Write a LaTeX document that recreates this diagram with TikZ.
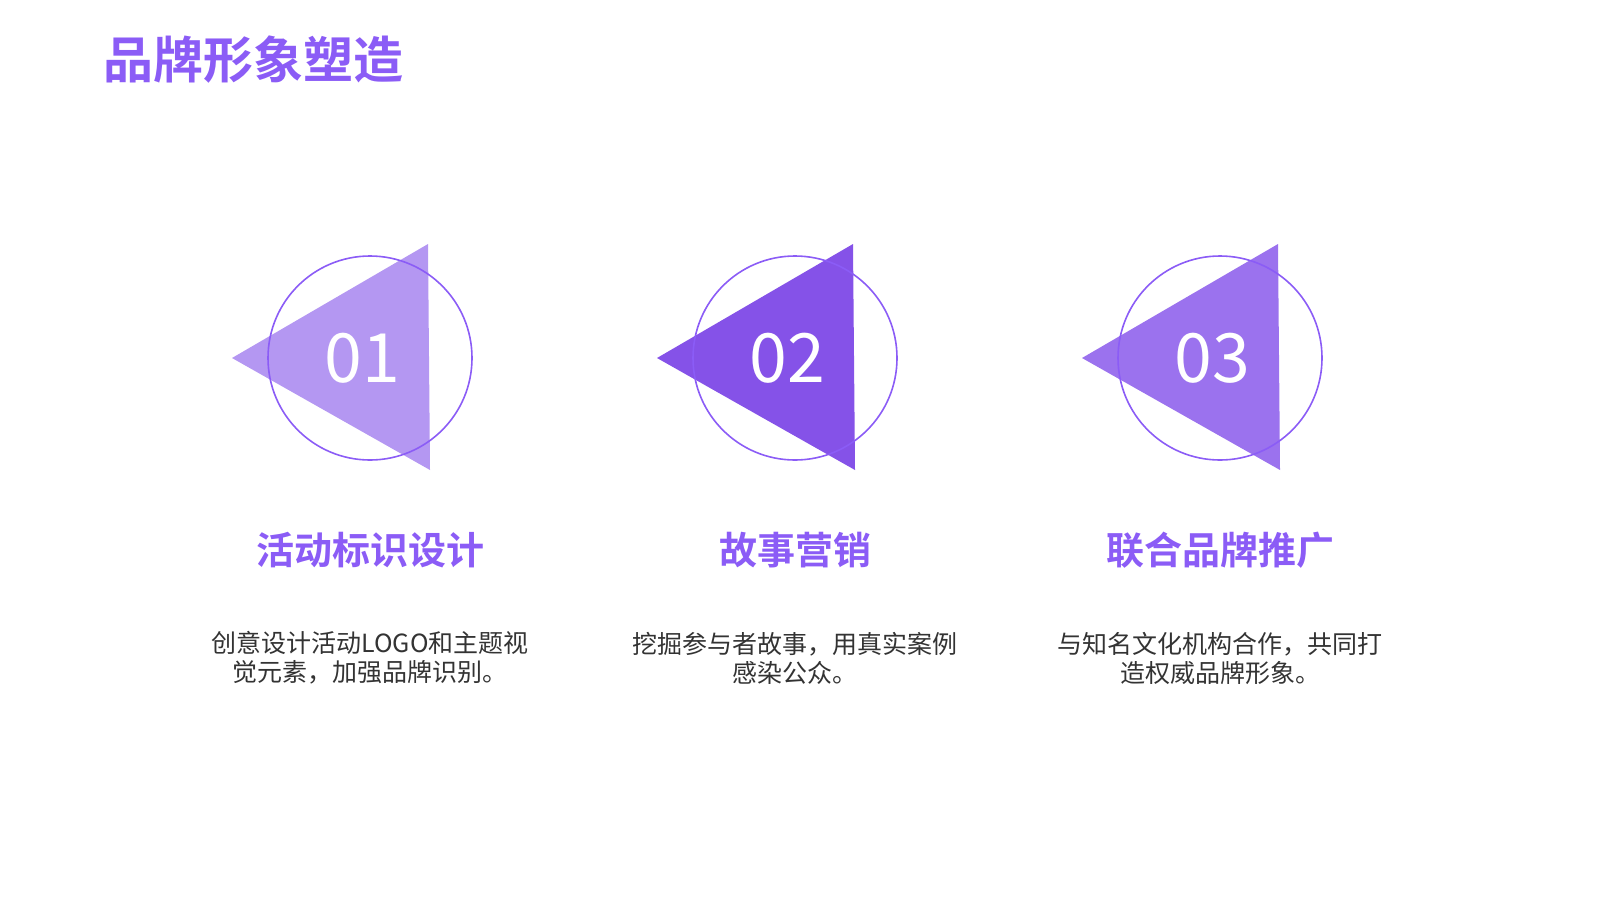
\documentclass[tikz,border=0pt]{standalone}
\usepackage{fontspec}
\setmainfont{Noto Sans CJK SC}
\newfontfamily\cjkb{Noto Sans CJK SC Bold}
\definecolor{vio}{HTML}{8B5CF6}
\definecolor{t1}{HTML}{B497F2}
\definecolor{t2}{HTML}{8552E8}
\definecolor{t3}{HTML}{9B72EE}
\definecolor{txt}{HTML}{333333}
\begin{document}
\begin{tikzpicture}[x=0.5pt,y=-0.5pt,
  ring/.style={draw=vio,line width=0.8pt},
  num/.style={text=white,font=\fontsize{34}{40}\selectfont},
  head/.style={text=vio,font=\cjkb\fontsize{19}{23}\selectfont},
  desc/.style={text=txt,font=\fontsize{12.5}{14.5}\selectfont,align=center}]
\useasboundingbox (0,0) rectangle (1600,900);
\node[anchor=west,text=vio,font=\cjkb\fontsize{25}{30}\selectfont] (title) at (96,60) {品牌形象塑造};
\foreach \cx/\col/\n/\h/\da/\db [count=\i] in {370/t1/01/活动标识设计/创意设计活动LOGO和主题视/觉元素，加强品牌识别。,795/t2/02/故事营销/挖掘参与者故事，用真实案例/感染公众。,1220/t3/03/联合品牌推广/与知名文化机构合作，共同打/造权威品牌形象。}{
  \fill[\col] (\cx-138,358) -- (\cx+58,244) -- (\cx+60,470) -- cycle;
  \draw[ring] (\cx,358) circle (102);
  \node[num] (n\i) at (\cx-8,358) {\n};
  \node[head] (h\i) at (\cx,550) {\h};
  \node[desc] (d\i) at (\cx,658) {\da\\\db};
}
\end{tikzpicture}
\end{document}
